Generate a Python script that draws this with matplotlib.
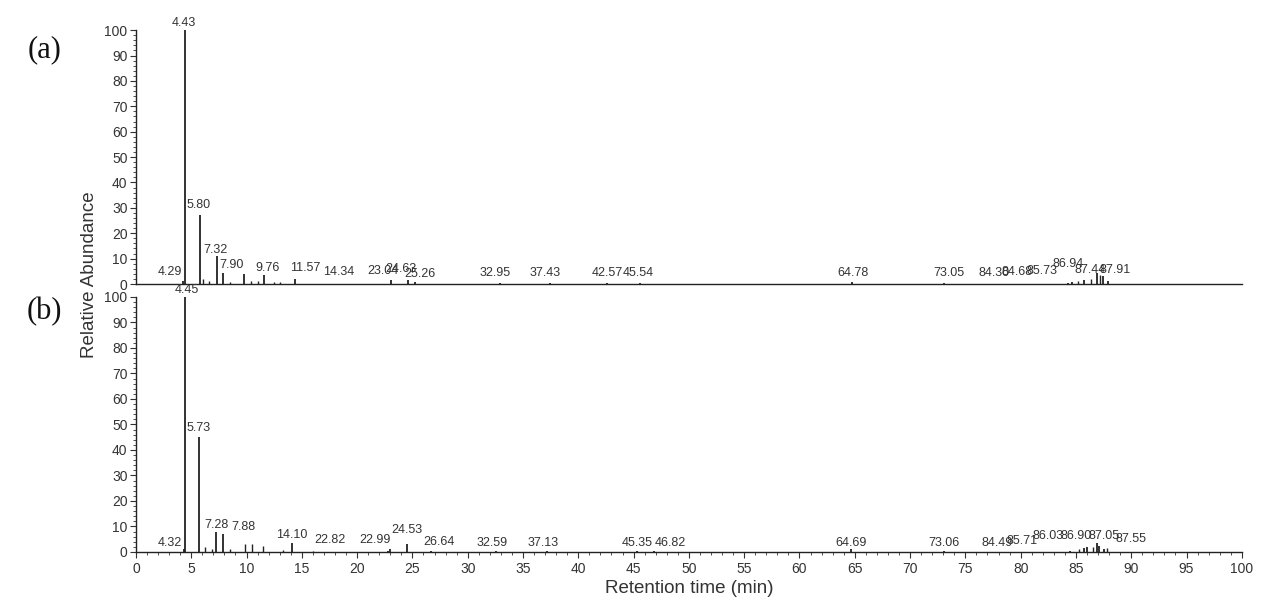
import matplotlib.pyplot as plt
from matplotlib.ticker import MultipleLocator

# ---- chromatogram (a): labelled peaks
rt_a = [4.29, 4.43, 5.80, 7.32, 7.90, 9.76, 11.57, 14.34, 23.04, 24.63, 25.26,
        32.95, 37.43, 42.57, 45.54, 64.78, 73.05, 84.30, 84.68, 85.73, 86.94,
        87.44, 87.91]
height_a = [1.0, 100, 27, 11, 4.5, 4, 3.5, 2, 1.5, 1.5, 0.6,
            0.4, 0.4, 0.4, 0.5, 0.6, 0.5, 0.5, 0.8, 1.5, 4.5,
            3, 1.2]
# small unlabelled peaks
minor_rt_a = [6.1, 6.6, 8.5, 10.4, 11.0, 12.5, 13.0, 85.2, 86.4, 87.2]
minor_h_a = [2, 1, 0.8, 1, 1, 0.8, 0.6, 1, 2, 3.5]

# ---- chromatogram (b)
rt_b = [4.32, 4.45, 5.73, 7.28, 7.88, 14.10, 22.82, 22.99, 24.53, 26.64,
        32.59, 37.13, 45.35, 46.82, 64.69, 73.06, 84.49, 85.71, 86.03, 86.90,
        87.05, 87.55]
height_b = [1.0, 100, 45, 8, 7, 3.5, 0.5, 1.0, 3, 0.5,
            0.3, 0.3, 0.4, 0.4, 1.0, 0.5, 0.5, 1.5, 2, 3.5,
            2.5, 1]
minor_rt_b = [6.2, 6.9, 8.5, 9.9, 10.5, 11.5, 13.3, 16.0, 85.3, 86.5, 87.8]
minor_h_b = [2, 1, 1, 3, 3, 2.5, 0.8, 0.5, 1, 2, 1.5]

# label placement (layout only, shifted to avoid overlap like the instrument software)
lab_x_a = [3.07, 4.34, 5.7, 7.23, 8.68, 11.9, 15.3, 18.35, 22.3, 23.96, 25.7,
           32.5, 37.0, 42.6, 45.4, 64.8, 73.5, 77.6, 79.7, 81.9, 84.3, 86.3, 88.5]
lab_y_a = [4.7, 103, 31, 13.4, 7.5, 6.3, 6.3, 4.7, 5.1, 5.9, 3.9,
           4.3, 4.3, 4.3, 4.3, 4.3, 4.3, 4.3, 4.7, 5.0, 8.0, 5.5, 5.5]
lab_x_b = [3.07, 4.6, 5.7, 7.3, 9.7, 14.1, 17.5, 21.6, 24.5, 27.4, 32.2, 36.8,
           45.3, 48.3, 64.7, 73.1, 77.9, 80.1, 82.5, 85.0, 87.5, 90.0]
lab_y_b = [3.5, 102.7, 48.6, 10.6, 9.8, 6.7, 4.7, 4.7, 8.6, 3.9, 3.5, 3.5,
           3.5, 3.5, 3.5, 3.5, 3.5, 4.3, 6.3, 6.3, 6.3, 5.1]

plt.rcParams['font.family'] = ['Liberation Sans', 'DejaVu Sans']
ink = '#222222'
txt = '#333333'

fig = plt.figure(figsize=(12.61, 6.03), dpi=100)
ax_a = fig.add_axes([0.1078, 0.529, 0.877, 0.421])
ax_b = fig.add_axes([0.1078, 0.0846, 0.877, 0.423])


def draw(ax, rt, h, mrt, mh, lx, ly):
    ax.vlines(mrt, 0, mh, color=ink, lw=1.0)
    ax.vlines(rt, 0, h, color=ink, lw=1.3)
    for r, x, y in zip(rt, lx, ly):
        ax.text(x, y, f'{r:.2f}', ha='center', va='center', fontsize=9,
                color=txt, clip_on=False)
    ax.set_xlim(0, 100)
    ax.set_ylim(0, 100)
    ax.spines['top'].set_visible(False)
    ax.spines['right'].set_visible(False)
    for s in ('left', 'bottom'):
        ax.spines[s].set_color(ink)
        ax.spines[s].set_linewidth(1.0)
    ax.yaxis.set_major_locator(MultipleLocator(10))
    ax.yaxis.set_minor_locator(MultipleLocator(2))
    ax.tick_params(axis='y', which='major', length=4, width=0.8, pad=2,
                   labelsize=10, colors=txt)
    ax.tick_params(axis='y', which='minor', length=2, width=0.6, colors=txt)


draw(ax_a, rt_a, height_a, minor_rt_a, minor_h_a, lab_x_a, lab_y_a)
draw(ax_b, rt_b, height_b, minor_rt_b, minor_h_b, lab_x_b, lab_y_b)

ax_a.tick_params(axis='x', which='both', bottom=False, labelbottom=False)

ax_b.xaxis.set_major_locator(MultipleLocator(5))
ax_b.xaxis.set_minor_locator(MultipleLocator(1))
ax_b.tick_params(axis='x', which='major', length=4, width=0.8, pad=3,
                 labelsize=10, colors=txt)
ax_b.tick_params(axis='x', which='minor', length=2, width=0.6, colors=txt)
ax_b.set_xlabel('Retention time (min)', fontsize=13.5, color=txt, labelpad=3)

fig.text(0.071, 0.544, 'Relative Abundance', rotation=90, ha='center',
         va='center', fontsize=13.5, color=txt)
fig.text(0.035, 0.917, '(a)', family='Liberation Serif', fontsize=22,
         ha='center', va='center', color='#111111')
fig.text(0.035, 0.483, '(b)', family='Liberation Serif', fontsize=22,
         ha='center', va='center', color='#111111')

fig.savefig('out.png', dpi=100, facecolor='white')
